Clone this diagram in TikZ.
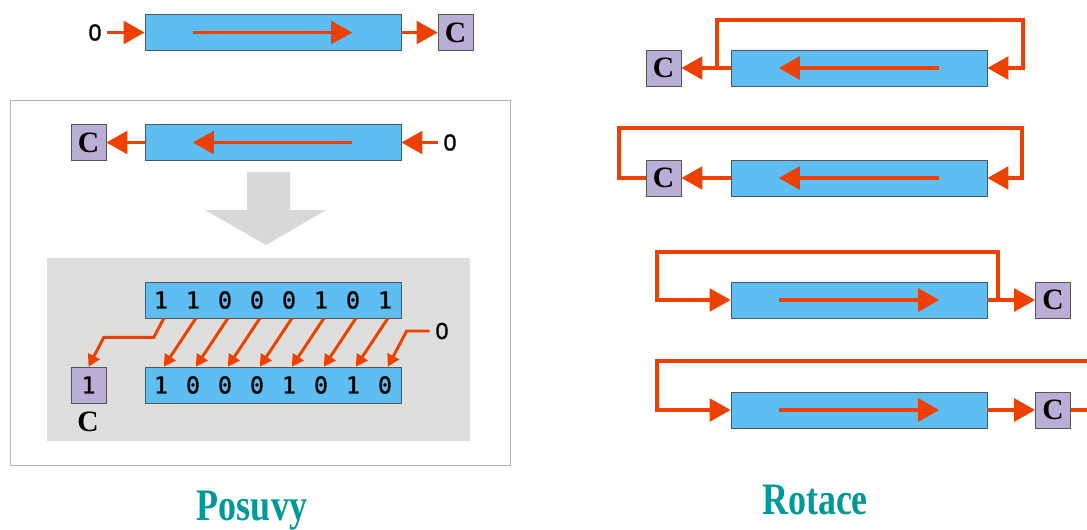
\documentclass[tikz,border=0pt]{standalone}
\usepackage{fontspec}
\setmainfont{Liberation Serif}
\newfontfamily\zerofont[FakeBold=1.2]{Liberation Sans}
\newfontfamily\bitfont[FakeBold=1.2]{DejaVu Sans Mono}
\usepackage{graphicx}
\usetikzlibrary{
  positioning,
  arrows.meta,
  calc
}
\definecolor{regblue}{HTML}{5EBEF2}
\definecolor{cpurple}{HTML}{B9AED6}
\definecolor{shiftred}{HTML}{EE4000}
\definecolor{boxline}{HTML}{555555}
\definecolor{panelgray}{HTML}{DEDEDC}
\definecolor{framegray}{HTML}{B4B4B4}
\definecolor{bigarrow}{HTML}{D8D8D8}
\definecolor{titleteal}{HTML}{009999}

\begin{document}
\begin{tikzpicture}[
  x=0.025cm, y=-0.025cm,
  reg/.style={draw=boxline, fill=regblue, minimum width=6.4cm, minimum height=0.9cm, inner sep=0pt},
  cbox/.style={draw=boxline, fill=cpurple, minimum width=0.875cm, minimum height=0.9cm, inner sep=0pt,
               font=\fontsize{21}{21}\selectfont\bfseries},
  zero/.style={inner sep=4pt, font=\zerofont\fontsize{16.5}{16.5}\selectfont},
  bit/.style={inner sep=0pt, font=\bitfont\fontsize{16.5}{16.5}\selectfont},
  title/.style={text=titleteal, font=\fontsize{32}{32}\selectfont\bfseries},
  arr/.style={-{Triangle[length=15pt, width=16pt]}, line width=2.8pt, shiftred},
  darr/.style={-{Triangle[length=8.5pt, width=9pt]}, line width=2.1pt, shiftred}
]
  \useasboundingbox (0,0) rectangle (1087,529);

  % --- shift left / right (Posuvy)
  \node[reg] (r1) at (273,32.5) {};
  \node[cbox] (c1) at (455.5,32.5) {C};
  \node[zero] (zero1) at (95,32.5) {0};
  \draw[arr] (zero1) -- (r1);
  \draw[arr] (r1) -- (c1);
  \draw[arr] ([xshift=1.2cm]r1.west) -- ([xshift=-1.225cm]r1.east);

  \draw[framegray] (10,100) rectangle (510,465);

  \node[reg] (r2) at (273,142.5) {};
  \node[cbox] (c2) at (88.5,142.5) {C};
  \node[zero] (zero2) at (450,142.5) {0};
  \draw[arr] (zero2) -- (r2);
  \draw[arr] (r2) -- (c2);
  \draw[arr] ([xshift=-1.225cm]r2.east) -- ([xshift=1.2cm]r2.west);

  \fill[bigarrow] (247,172) -- (290,172) -- (290,210) -- (326,210) -- (266,245)
                  -- (205,210) -- (247,210) -- cycle;

  \fill[panelgray] (47,258) rectangle (470,441);

  \node[reg] (rt) at (273,300) {};
  \node[reg] (rb) at (273,385) {};
  \foreach \b [count=\i] in {1,1,0,0,0,1,0,1}
    \node[bit] (t\i) at (129+32*\i,300) {\b};
  \foreach \b [count=\i] in {1,0,0,0,1,0,1,0}
    \node[bit] (b\i) at (129+32*\i,385) {\b};
  \node[cbox, font=\bitfont\fontsize{16.5}{16.5}\selectfont] (cc) at (88.5,385) {1};
  \node[font=\fontsize{21}{21}\selectfont\bfseries] (cl) at (88,422) {C};
  \node[zero] (zero3) at (442,331) {0};

  \foreach \i in {2,...,8} {
    \pgfmathtruncatemacro\j{\i-1}
    \draw[darr] ([xshift=2pt]t\i |- rt.south) -- ([xshift=2pt]b\j |- rb.north);
  }
  \draw[darr] ([xshift=2pt]t1 |- rt.south) -- ++(-10,19) -- ++(-50,0) -- (cc.north);
  \draw[darr] (zero3.west) -- ++(-23,0) -- ([xshift=2pt]b8 |- rb.north);

  % --- rotations (Rotace)
  \node[reg] (q1) at (859,68) {};
  \node[cbox] (c3) at (663.5,68) {C};
  \draw[arr] (q1) -- (c3);
  \draw[arr] ([xshift=-1.2cm]q1.east) -- ([xshift=1.2cm]q1.west);
  \coordinate (k1) at ($(q1.west)+(-14,0)$);
  \draw[arr] (k1) |- ($(q1.east)+(36,-48)$) |- (q1.east);

  \node[reg] (q2) at (859,178) {};
  \node[cbox] (c4) at (663.5,178) {C};
  \draw[arr] (q2) -- (c4);
  \draw[arr] ([xshift=-1.2cm]q2.east) -- ([xshift=1.2cm]q2.west);
  \draw[arr] (c4.west) -- ++(-27,0) |- ($(q2.east)+(35,-50)$) |- (q2.east);

  \node[reg] (q3) at (859,300) {};
  \node[cbox] (c5) at (1053,300) {C};
  \draw[arr] (q3) -- (c5);
  \draw[arr] ([xshift=1.2cm]q3.west) -- ([xshift=-1.2cm]q3.east);
  \coordinate (k3) at ($(q3.east)+(11,0)$);
  \draw[arr] (k3) |- ($(q3.west)+(-74,-48)$) |- (q3.west);

  \node[reg] (q4) at (859,410) {};
  \node[cbox] (c6) at (1053,410) {C};
  \draw[arr] (q4) -- (c6);
  \draw[arr] ([xshift=1.2cm]q4.west) -- ([xshift=-1.2cm]q4.east);
  \coordinate (k4) at (1100,410);
  \draw[line width=2.8pt, shiftred] (c6.east) -- (k4);
  \draw[arr] ($(k4)+(0,-49)$) -| ($(q4.west)+(-74,0)$) -- (q4.west);

  % --- titles
  \node[title] (posuvy) at (252,511) {\scalebox{0.8}[1]{Posuvy}};
  \node[title] (rotace) at (815,500) {\scalebox{0.8}[1]{Rotace}};
\end{tikzpicture}
\end{document}
